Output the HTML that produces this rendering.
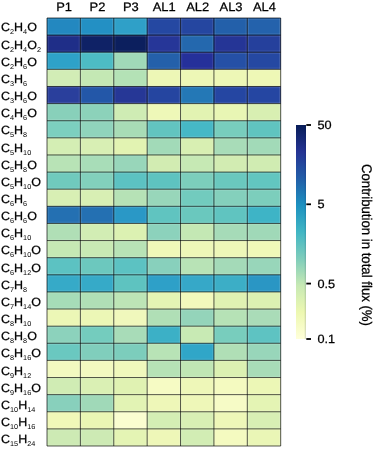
<!DOCTYPE html><html><head><meta charset="utf-8"><style>html,body{margin:0;padding:0;background:#fff;width:375px;height:457px;overflow:hidden}svg{display:block;will-change:transform}text{text-rendering:geometricPrecision;font-family:"Liberation Sans",sans-serif;fill:#000;stroke:#000;stroke-width:0.25px;font-variant-ligatures:none}</style></head><body>
<svg width="375" height="457" viewBox="0 0 375 457">
<defs><linearGradient id="cb" x1="0" y1="1" x2="0" y2="0">
<stop offset="0.0000" stop-color="#ffffd9"/>
<stop offset="0.1250" stop-color="#edf8b1"/>
<stop offset="0.2500" stop-color="#c7e9b4"/>
<stop offset="0.3750" stop-color="#7fcdbb"/>
<stop offset="0.5000" stop-color="#41b6c4"/>
<stop offset="0.6250" stop-color="#1d91c0"/>
<stop offset="0.7500" stop-color="#225ea8"/>
<stop offset="0.8750" stop-color="#253494"/>
<stop offset="1.0000" stop-color="#081d58"/>
</linearGradient></defs>
<rect x="47.00" y="18.00" width="33.44" height="17.17" fill="#2388c0"/>
<rect x="80.39" y="18.00" width="33.44" height="17.17" fill="#2390c4"/>
<rect x="113.77" y="18.00" width="33.44" height="17.17" fill="#2fa0c8"/>
<rect x="147.16" y="18.00" width="33.44" height="17.17" fill="#2548a2"/>
<rect x="180.54" y="18.00" width="33.44" height="17.17" fill="#2546a0"/>
<rect x="213.93" y="18.00" width="33.44" height="17.17" fill="#2360aa"/>
<rect x="247.31" y="18.00" width="33.44" height="17.17" fill="#2462ac"/>
<rect x="47.00" y="35.12" width="33.44" height="17.17" fill="#1f2e88"/>
<rect x="80.39" y="35.12" width="33.44" height="17.17" fill="#0f2266"/>
<rect x="113.77" y="35.12" width="33.44" height="17.17" fill="#0c1f5e"/>
<rect x="147.16" y="35.12" width="33.44" height="17.17" fill="#263698"/>
<rect x="180.54" y="35.12" width="33.44" height="17.17" fill="#2468ae"/>
<rect x="213.93" y="35.12" width="33.44" height="17.17" fill="#253596"/>
<rect x="247.31" y="35.12" width="33.44" height="17.17" fill="#25409c"/>
<rect x="47.00" y="52.24" width="33.44" height="17.17" fill="#2ea2c8"/>
<rect x="80.39" y="52.24" width="33.44" height="17.17" fill="#4dbcc4"/>
<rect x="113.77" y="52.24" width="33.44" height="17.17" fill="#a0d9b8"/>
<rect x="147.16" y="52.24" width="33.44" height="17.17" fill="#2460aa"/>
<rect x="180.54" y="52.24" width="33.44" height="17.17" fill="#25309a"/>
<rect x="213.93" y="52.24" width="33.44" height="17.17" fill="#2550a6"/>
<rect x="247.31" y="52.24" width="33.44" height="17.17" fill="#2548a2"/>
<rect x="47.00" y="69.36" width="33.44" height="17.17" fill="#d2edb6"/>
<rect x="80.39" y="69.36" width="33.44" height="17.17" fill="#c4e8b4"/>
<rect x="113.77" y="69.36" width="33.44" height="17.17" fill="#b4e2b6"/>
<rect x="147.16" y="69.36" width="33.44" height="17.17" fill="#edf7b6"/>
<rect x="180.54" y="69.36" width="33.44" height="17.17" fill="#edf7b6"/>
<rect x="213.93" y="69.36" width="33.44" height="17.17" fill="#edf7b6"/>
<rect x="247.31" y="69.36" width="33.44" height="17.17" fill="#eef8b6"/>
<rect x="47.00" y="86.48" width="33.44" height="17.17" fill="#2a3f9c"/>
<rect x="80.39" y="86.48" width="33.44" height="17.17" fill="#2357a8"/>
<rect x="113.77" y="86.48" width="33.44" height="17.17" fill="#263796"/>
<rect x="147.16" y="86.48" width="33.44" height="17.17" fill="#2545a0"/>
<rect x="180.54" y="86.48" width="33.44" height="17.17" fill="#2478b6"/>
<rect x="213.93" y="86.48" width="33.44" height="17.17" fill="#2546a2"/>
<rect x="247.31" y="86.48" width="33.44" height="17.17" fill="#2546a2"/>
<rect x="47.00" y="103.60" width="33.44" height="17.17" fill="#88d0ba"/>
<rect x="80.39" y="103.60" width="33.44" height="17.17" fill="#8cd2ba"/>
<rect x="113.77" y="103.60" width="33.44" height="17.17" fill="#cfecb4"/>
<rect x="147.16" y="103.60" width="33.44" height="17.17" fill="#eef8b8"/>
<rect x="180.54" y="103.60" width="33.44" height="17.17" fill="#e2f3b2"/>
<rect x="213.93" y="103.60" width="33.44" height="17.17" fill="#e8f6b4"/>
<rect x="247.31" y="103.60" width="33.44" height="17.17" fill="#d8efb2"/>
<rect x="47.00" y="120.72" width="33.44" height="17.17" fill="#7ccfbf"/>
<rect x="80.39" y="120.72" width="33.44" height="17.17" fill="#90d4bc"/>
<rect x="113.77" y="120.72" width="33.44" height="17.17" fill="#a8dcb6"/>
<rect x="147.16" y="120.72" width="33.44" height="17.17" fill="#62c4c0"/>
<rect x="180.54" y="120.72" width="33.44" height="17.17" fill="#46b8c6"/>
<rect x="213.93" y="120.72" width="33.44" height="17.17" fill="#78cdbd"/>
<rect x="247.31" y="120.72" width="33.44" height="17.17" fill="#60c4c0"/>
<rect x="47.00" y="137.84" width="33.44" height="17.17" fill="#d4eeb4"/>
<rect x="80.39" y="137.84" width="33.44" height="17.17" fill="#d8efb4"/>
<rect x="113.77" y="137.84" width="33.44" height="17.17" fill="#e2f3b2"/>
<rect x="147.16" y="137.84" width="33.44" height="17.17" fill="#a2dab8"/>
<rect x="180.54" y="137.84" width="33.44" height="17.17" fill="#d8efb2"/>
<rect x="213.93" y="137.84" width="33.44" height="17.17" fill="#a8dcb8"/>
<rect x="247.31" y="137.84" width="33.44" height="17.17" fill="#a2dab8"/>
<rect x="47.00" y="154.96" width="33.44" height="17.17" fill="#b8e3b6"/>
<rect x="80.39" y="154.96" width="33.44" height="17.17" fill="#a8ddb8"/>
<rect x="113.77" y="154.96" width="33.44" height="17.17" fill="#98d6ba"/>
<rect x="147.16" y="154.96" width="33.44" height="17.17" fill="#d2ecb2"/>
<rect x="180.54" y="154.96" width="33.44" height="17.17" fill="#c6e9b4"/>
<rect x="213.93" y="154.96" width="33.44" height="17.17" fill="#d2ecb2"/>
<rect x="247.31" y="154.96" width="33.44" height="17.17" fill="#d0ecb2"/>
<rect x="47.00" y="172.08" width="33.44" height="17.17" fill="#70cabd"/>
<rect x="80.39" y="172.08" width="33.44" height="17.17" fill="#82d0bc"/>
<rect x="113.77" y="172.08" width="33.44" height="17.17" fill="#5cc2c2"/>
<rect x="147.16" y="172.08" width="33.44" height="17.17" fill="#5ec3c0"/>
<rect x="180.54" y="172.08" width="33.44" height="17.17" fill="#7ccebc"/>
<rect x="213.93" y="172.08" width="33.44" height="17.17" fill="#6ac8be"/>
<rect x="247.31" y="172.08" width="33.44" height="17.17" fill="#62c6c0"/>
<rect x="47.00" y="189.20" width="33.44" height="17.17" fill="#d8efb4"/>
<rect x="80.39" y="189.20" width="33.44" height="17.17" fill="#d8efb4"/>
<rect x="113.77" y="189.20" width="33.44" height="17.17" fill="#b6e2b6"/>
<rect x="147.16" y="189.20" width="33.44" height="17.17" fill="#98d6ba"/>
<rect x="180.54" y="189.20" width="33.44" height="17.17" fill="#72cbbe"/>
<rect x="213.93" y="189.20" width="33.44" height="17.17" fill="#84d0bc"/>
<rect x="247.31" y="189.20" width="33.44" height="17.17" fill="#7ccebc"/>
<rect x="47.00" y="206.32" width="33.44" height="17.17" fill="#2470b2"/>
<rect x="80.39" y="206.32" width="33.44" height="17.17" fill="#2470b2"/>
<rect x="113.77" y="206.32" width="33.44" height="17.17" fill="#2a98c6"/>
<rect x="147.16" y="206.32" width="33.44" height="17.17" fill="#60c4c0"/>
<rect x="180.54" y="206.32" width="33.44" height="17.17" fill="#6ac8be"/>
<rect x="213.93" y="206.32" width="33.44" height="17.17" fill="#60c4c0"/>
<rect x="247.31" y="206.32" width="33.44" height="17.17" fill="#3eb4c6"/>
<rect x="47.00" y="223.44" width="33.44" height="17.17" fill="#b0dfb6"/>
<rect x="80.39" y="223.44" width="33.44" height="17.17" fill="#d2edb4"/>
<rect x="113.77" y="223.44" width="33.44" height="17.17" fill="#dcf1b2"/>
<rect x="147.16" y="223.44" width="33.44" height="17.17" fill="#8cd2bc"/>
<rect x="180.54" y="223.44" width="33.44" height="17.17" fill="#c4e8b4"/>
<rect x="213.93" y="223.44" width="33.44" height="17.17" fill="#a6dbb8"/>
<rect x="247.31" y="223.44" width="33.44" height="17.17" fill="#a0d9b8"/>
<rect x="47.00" y="240.56" width="33.44" height="17.17" fill="#c6e9b4"/>
<rect x="80.39" y="240.56" width="33.44" height="17.17" fill="#c8eab4"/>
<rect x="113.77" y="240.56" width="33.44" height="17.17" fill="#b8e3b6"/>
<rect x="147.16" y="240.56" width="33.44" height="17.17" fill="#f0f8b8"/>
<rect x="180.54" y="240.56" width="33.44" height="17.17" fill="#eef7b8"/>
<rect x="213.93" y="240.56" width="33.44" height="17.17" fill="#eef7b8"/>
<rect x="247.31" y="240.56" width="33.44" height="17.17" fill="#f0f8b8"/>
<rect x="47.00" y="257.68" width="33.44" height="17.17" fill="#5cc2c2"/>
<rect x="80.39" y="257.68" width="33.44" height="17.17" fill="#6cc8be"/>
<rect x="113.77" y="257.68" width="33.44" height="17.17" fill="#5cc2c2"/>
<rect x="147.16" y="257.68" width="33.44" height="17.17" fill="#88d0bc"/>
<rect x="180.54" y="257.68" width="33.44" height="17.17" fill="#b8e3b6"/>
<rect x="213.93" y="257.68" width="33.44" height="17.17" fill="#a4dab8"/>
<rect x="247.31" y="257.68" width="33.44" height="17.17" fill="#98d6ba"/>
<rect x="47.00" y="274.80" width="33.44" height="17.17" fill="#36aac8"/>
<rect x="80.39" y="274.80" width="33.44" height="17.17" fill="#36aac8"/>
<rect x="113.77" y="274.80" width="33.44" height="17.17" fill="#5ec3c0"/>
<rect x="147.16" y="274.80" width="33.44" height="17.17" fill="#2ea0c8"/>
<rect x="180.54" y="274.80" width="33.44" height="17.17" fill="#36a8c8"/>
<rect x="213.93" y="274.80" width="33.44" height="17.17" fill="#3caec6"/>
<rect x="247.31" y="274.80" width="33.44" height="17.17" fill="#2a96c4"/>
<rect x="47.00" y="291.92" width="33.44" height="17.17" fill="#a6dcb8"/>
<rect x="80.39" y="291.92" width="33.44" height="17.17" fill="#b0dfb6"/>
<rect x="113.77" y="291.92" width="33.44" height="17.17" fill="#bde5b6"/>
<rect x="147.16" y="291.92" width="33.44" height="17.17" fill="#e4f4b4"/>
<rect x="180.54" y="291.92" width="33.44" height="17.17" fill="#f2f9bc"/>
<rect x="213.93" y="291.92" width="33.44" height="17.17" fill="#e0f2b2"/>
<rect x="247.31" y="291.92" width="33.44" height="17.17" fill="#dcf1b2"/>
<rect x="47.00" y="309.04" width="33.44" height="17.17" fill="#ecf7b6"/>
<rect x="80.39" y="309.04" width="33.44" height="17.17" fill="#ecf7b6"/>
<rect x="113.77" y="309.04" width="33.44" height="17.17" fill="#f0f8bc"/>
<rect x="147.16" y="309.04" width="33.44" height="17.17" fill="#b0dfb6"/>
<rect x="180.54" y="309.04" width="33.44" height="17.17" fill="#94d4ba"/>
<rect x="213.93" y="309.04" width="33.44" height="17.17" fill="#b6e2b6"/>
<rect x="247.31" y="309.04" width="33.44" height="17.17" fill="#aadcb8"/>
<rect x="47.00" y="326.16" width="33.44" height="17.17" fill="#8cd2bc"/>
<rect x="80.39" y="326.16" width="33.44" height="17.17" fill="#74ccbe"/>
<rect x="113.77" y="326.16" width="33.44" height="17.17" fill="#a8dcb8"/>
<rect x="147.16" y="326.16" width="33.44" height="17.17" fill="#3cb0c6"/>
<rect x="180.54" y="326.16" width="33.44" height="17.17" fill="#c8eab4"/>
<rect x="213.93" y="326.16" width="33.44" height="17.17" fill="#78cdbd"/>
<rect x="247.31" y="326.16" width="33.44" height="17.17" fill="#5ec3c2"/>
<rect x="47.00" y="343.28" width="33.44" height="17.17" fill="#6ac8c0"/>
<rect x="80.39" y="343.28" width="33.44" height="17.17" fill="#80cebc"/>
<rect x="113.77" y="343.28" width="33.44" height="17.17" fill="#7ccdbc"/>
<rect x="147.16" y="343.28" width="33.44" height="17.17" fill="#b8e3b6"/>
<rect x="180.54" y="343.28" width="33.44" height="17.17" fill="#30a6c8"/>
<rect x="213.93" y="343.28" width="33.44" height="17.17" fill="#b0dfb6"/>
<rect x="247.31" y="343.28" width="33.44" height="17.17" fill="#98d6ba"/>
<rect x="47.00" y="360.40" width="33.44" height="17.17" fill="#f2f9c0"/>
<rect x="80.39" y="360.40" width="33.44" height="17.17" fill="#f2f9c0"/>
<rect x="113.77" y="360.40" width="33.44" height="17.17" fill="#f0f8bc"/>
<rect x="147.16" y="360.40" width="33.44" height="17.17" fill="#b6e2b6"/>
<rect x="180.54" y="360.40" width="33.44" height="17.17" fill="#c0e6b4"/>
<rect x="213.93" y="360.40" width="33.44" height="17.17" fill="#dcf1b2"/>
<rect x="247.31" y="360.40" width="33.44" height="17.17" fill="#a8dcb8"/>
<rect x="47.00" y="377.52" width="33.44" height="17.17" fill="#d0ecb4"/>
<rect x="80.39" y="377.52" width="33.44" height="17.17" fill="#daf0b4"/>
<rect x="113.77" y="377.52" width="33.44" height="17.17" fill="#e0f2b2"/>
<rect x="147.16" y="377.52" width="33.44" height="17.17" fill="#f6fbc4"/>
<rect x="180.54" y="377.52" width="33.44" height="17.17" fill="#eef7b8"/>
<rect x="213.93" y="377.52" width="33.44" height="17.17" fill="#f4fac0"/>
<rect x="247.31" y="377.52" width="33.44" height="17.17" fill="#ecf7b6"/>
<rect x="47.00" y="394.64" width="33.44" height="17.17" fill="#88d0bc"/>
<rect x="80.39" y="394.64" width="33.44" height="17.17" fill="#a0d9b8"/>
<rect x="113.77" y="394.64" width="33.44" height="17.17" fill="#e2f3b4"/>
<rect x="147.16" y="394.64" width="33.44" height="17.17" fill="#eef7b8"/>
<rect x="180.54" y="394.64" width="33.44" height="17.17" fill="#eef7b8"/>
<rect x="213.93" y="394.64" width="33.44" height="17.17" fill="#f6fbc6"/>
<rect x="247.31" y="394.64" width="33.44" height="17.17" fill="#e4f4b4"/>
<rect x="47.00" y="411.76" width="33.44" height="17.17" fill="#f0f8b8"/>
<rect x="80.39" y="411.76" width="33.44" height="17.17" fill="#eaf6b4"/>
<rect x="113.77" y="411.76" width="33.44" height="17.17" fill="#fafdd0"/>
<rect x="147.16" y="411.76" width="33.44" height="17.17" fill="#d4eeb4"/>
<rect x="180.54" y="411.76" width="33.44" height="17.17" fill="#d8efb4"/>
<rect x="213.93" y="411.76" width="33.44" height="17.17" fill="#eef7b8"/>
<rect x="247.31" y="411.76" width="33.44" height="17.17" fill="#d8efb4"/>
<rect x="47.00" y="428.88" width="33.44" height="17.17" fill="#cdeab4"/>
<rect x="80.39" y="428.88" width="33.44" height="17.17" fill="#cdeab4"/>
<rect x="113.77" y="428.88" width="33.44" height="17.17" fill="#e4f4b4"/>
<rect x="147.16" y="428.88" width="33.44" height="17.17" fill="#eef7b8"/>
<rect x="180.54" y="428.88" width="33.44" height="17.17" fill="#d2edb4"/>
<rect x="213.93" y="428.88" width="33.44" height="17.17" fill="#f4fac0"/>
<rect x="247.31" y="428.88" width="33.44" height="17.17" fill="#eaf6b6"/>
<path d="M48.20 18.00V446.00M79.19 18.00V446.00M81.59 18.00V446.00M112.57 18.00V446.00M114.97 18.00V446.00M145.96 18.00V446.00M148.36 18.00V446.00M179.34 18.00V446.00M181.74 18.00V446.00M212.73 18.00V446.00M215.13 18.00V446.00M246.11 18.00V446.00M248.51 18.00V446.00M279.50 18.00V446.00M47.00 19.20H280.70M47.00 33.92H280.70M47.00 36.32H280.70M47.00 51.04H280.70M47.00 53.44H280.70M47.00 68.16H280.70M47.00 70.56H280.70M47.00 85.28H280.70M47.00 87.68H280.70M47.00 102.40H280.70M47.00 104.80H280.70M47.00 119.52H280.70M47.00 121.92H280.70M47.00 136.64H280.70M47.00 139.04H280.70M47.00 153.76H280.70M47.00 156.16H280.70M47.00 170.88H280.70M47.00 173.28H280.70M47.00 188.00H280.70M47.00 190.40H280.70M47.00 205.12H280.70M47.00 207.52H280.70M47.00 222.24H280.70M47.00 224.64H280.70M47.00 239.36H280.70M47.00 241.76H280.70M47.00 256.48H280.70M47.00 258.88H280.70M47.00 273.60H280.70M47.00 276.00H280.70M47.00 290.72H280.70M47.00 293.12H280.70M47.00 307.84H280.70M47.00 310.24H280.70M47.00 324.96H280.70M47.00 327.36H280.70M47.00 342.08H280.70M47.00 344.48H280.70M47.00 359.20H280.70M47.00 361.60H280.70M47.00 376.32H280.70M47.00 378.72H280.70M47.00 393.44H280.70M47.00 395.84H280.70M47.00 410.56H280.70M47.00 412.96H280.70M47.00 427.68H280.70M47.00 430.08H280.70M47.00 444.80H280.70" stroke="rgba(255,255,255,0.12)" stroke-width="0.9" fill="none"/>
<path d="M47.00 18.00V446.00M80.39 18.00V446.00M113.77 18.00V446.00M147.16 18.00V446.00M180.54 18.00V446.00M213.93 18.00V446.00M247.31 18.00V446.00M280.70 18.00V446.00M47.00 18.00H280.70M47.00 35.12H280.70M47.00 52.24H280.70M47.00 69.36H280.70M47.00 86.48H280.70M47.00 103.60H280.70M47.00 120.72H280.70M47.00 137.84H280.70M47.00 154.96H280.70M47.00 172.08H280.70M47.00 189.20H280.70M47.00 206.32H280.70M47.00 223.44H280.70M47.00 240.56H280.70M47.00 257.68H280.70M47.00 274.80H280.70M47.00 291.92H280.70M47.00 309.04H280.70M47.00 326.16H280.70M47.00 343.28H280.70M47.00 360.40H280.70M47.00 377.52H280.70M47.00 394.64H280.70M47.00 411.76H280.70M47.00 428.88H280.70M47.00 446.00H280.70" stroke="rgba(0,0,0,0.66)" stroke-width="1.0" fill="none"/>
<text transform="translate(64.09,11.3) scale(1.06,1)" font-size="12.2" text-anchor="middle">P1</text>
<text transform="translate(97.48,11.3) scale(1.06,1)" font-size="12.2" text-anchor="middle">P2</text>
<text transform="translate(130.86,11.3) scale(1.06,1)" font-size="12.2" text-anchor="middle">P3</text>
<text transform="translate(164.25,11.3) scale(1.06,1)" font-size="12.2" text-anchor="middle">AL1</text>
<text transform="translate(197.64,11.3) scale(1.06,1)" font-size="12.2" text-anchor="middle">AL2</text>
<text transform="translate(231.02,11.3) scale(1.06,1)" font-size="12.2" text-anchor="middle">AL3</text>
<text transform="translate(264.41,11.3) scale(1.06,1)" font-size="12.2" text-anchor="middle">AL4</text>
<text transform="translate(1.0,31.40) scale(1.04,1)" letter-spacing="0"><tspan font-size="12" dy="0">C</tspan><tspan font-size="7" dy="3" stroke-width="0">2</tspan><tspan font-size="12" dy="-3">H</tspan><tspan font-size="7" dy="3" stroke-width="0">4</tspan><tspan font-size="12" dy="-3">O</tspan></text>
<text transform="translate(1.0,48.56) scale(1.04,1)" letter-spacing="0"><tspan font-size="12" dy="0">C</tspan><tspan font-size="7" dy="3" stroke-width="0">2</tspan><tspan font-size="12" dy="-3">H</tspan><tspan font-size="7" dy="3" stroke-width="0">4</tspan><tspan font-size="12" dy="-3">O</tspan><tspan font-size="7" dy="3" stroke-width="0">2</tspan></text>
<text transform="translate(1.0,65.72) scale(1.04,1)" letter-spacing="0"><tspan font-size="12" dy="0">C</tspan><tspan font-size="7" dy="3" stroke-width="0">2</tspan><tspan font-size="12" dy="-3">H</tspan><tspan font-size="7" dy="3" stroke-width="0">6</tspan><tspan font-size="12" dy="-3">O</tspan></text>
<text transform="translate(1.0,82.88) scale(1.04,1)" letter-spacing="0"><tspan font-size="12" dy="0">C</tspan><tspan font-size="7" dy="3" stroke-width="0">3</tspan><tspan font-size="12" dy="-3">H</tspan><tspan font-size="7" dy="3" stroke-width="0">6</tspan></text>
<text transform="translate(1.0,100.04) scale(1.04,1)" letter-spacing="0"><tspan font-size="12" dy="0">C</tspan><tspan font-size="7" dy="3" stroke-width="0">3</tspan><tspan font-size="12" dy="-3">H</tspan><tspan font-size="7" dy="3" stroke-width="0">6</tspan><tspan font-size="12" dy="-3">O</tspan></text>
<text transform="translate(1.0,117.20) scale(1.04,1)" letter-spacing="0"><tspan font-size="12" dy="0">C</tspan><tspan font-size="7" dy="3" stroke-width="0">4</tspan><tspan font-size="12" dy="-3">H</tspan><tspan font-size="7" dy="3" stroke-width="0">6</tspan><tspan font-size="12" dy="-3">O</tspan></text>
<text transform="translate(1.0,134.36) scale(1.04,1)" letter-spacing="0"><tspan font-size="12" dy="0">C</tspan><tspan font-size="7" dy="3" stroke-width="0">5</tspan><tspan font-size="12" dy="-3">H</tspan><tspan font-size="7" dy="3" stroke-width="0">8</tspan></text>
<text transform="translate(1.0,151.52) scale(1.04,1)" letter-spacing="0"><tspan font-size="12" dy="0">C</tspan><tspan font-size="7" dy="3" stroke-width="0">5</tspan><tspan font-size="12" dy="-3">H</tspan><tspan font-size="7" dy="3" stroke-width="0">10</tspan></text>
<text transform="translate(1.0,168.68) scale(1.04,1)" letter-spacing="0"><tspan font-size="12" dy="0">C</tspan><tspan font-size="7" dy="3" stroke-width="0">5</tspan><tspan font-size="12" dy="-3">H</tspan><tspan font-size="7" dy="3" stroke-width="0">8</tspan><tspan font-size="12" dy="-3">O</tspan></text>
<text transform="translate(1.0,185.84) scale(1.04,1)" letter-spacing="0"><tspan font-size="12" dy="0">C</tspan><tspan font-size="7" dy="3" stroke-width="0">5</tspan><tspan font-size="12" dy="-3">H</tspan><tspan font-size="7" dy="3" stroke-width="0">10</tspan><tspan font-size="12" dy="-3">O</tspan></text>
<text transform="translate(1.0,203.00) scale(1.04,1)" letter-spacing="0"><tspan font-size="12" dy="0">C</tspan><tspan font-size="7" dy="3" stroke-width="0">6</tspan><tspan font-size="12" dy="-3">H</tspan><tspan font-size="7" dy="3" stroke-width="0">6</tspan></text>
<text transform="translate(1.0,220.16) scale(1.04,1)" letter-spacing="0"><tspan font-size="12" dy="0">C</tspan><tspan font-size="7" dy="3" stroke-width="0">6</tspan><tspan font-size="12" dy="-3">H</tspan><tspan font-size="7" dy="3" stroke-width="0">6</tspan><tspan font-size="12" dy="-3">O</tspan></text>
<text transform="translate(1.0,237.32) scale(1.04,1)" letter-spacing="0"><tspan font-size="12" dy="0">C</tspan><tspan font-size="7" dy="3" stroke-width="0">6</tspan><tspan font-size="12" dy="-3">H</tspan><tspan font-size="7" dy="3" stroke-width="0">10</tspan></text>
<text transform="translate(1.0,254.48) scale(1.04,1)" letter-spacing="0"><tspan font-size="12" dy="0">C</tspan><tspan font-size="7" dy="3" stroke-width="0">6</tspan><tspan font-size="12" dy="-3">H</tspan><tspan font-size="7" dy="3" stroke-width="0">10</tspan><tspan font-size="12" dy="-3">O</tspan></text>
<text transform="translate(1.0,271.64) scale(1.04,1)" letter-spacing="0"><tspan font-size="12" dy="0">C</tspan><tspan font-size="7" dy="3" stroke-width="0">6</tspan><tspan font-size="12" dy="-3">H</tspan><tspan font-size="7" dy="3" stroke-width="0">12</tspan><tspan font-size="12" dy="-3">O</tspan></text>
<text transform="translate(1.0,288.80) scale(1.04,1)" letter-spacing="0"><tspan font-size="12" dy="0">C</tspan><tspan font-size="7" dy="3" stroke-width="0">7</tspan><tspan font-size="12" dy="-3">H</tspan><tspan font-size="7" dy="3" stroke-width="0">8</tspan></text>
<text transform="translate(1.0,305.96) scale(1.04,1)" letter-spacing="0"><tspan font-size="12" dy="0">C</tspan><tspan font-size="7" dy="3" stroke-width="0">7</tspan><tspan font-size="12" dy="-3">H</tspan><tspan font-size="7" dy="3" stroke-width="0">14</tspan><tspan font-size="12" dy="-3">O</tspan></text>
<text transform="translate(1.0,323.12) scale(1.04,1)" letter-spacing="0"><tspan font-size="12" dy="0">C</tspan><tspan font-size="7" dy="3" stroke-width="0">8</tspan><tspan font-size="12" dy="-3">H</tspan><tspan font-size="7" dy="3" stroke-width="0">10</tspan></text>
<text transform="translate(1.0,340.28) scale(1.04,1)" letter-spacing="0"><tspan font-size="12" dy="0">C</tspan><tspan font-size="7" dy="3" stroke-width="0">8</tspan><tspan font-size="12" dy="-3">H</tspan><tspan font-size="7" dy="3" stroke-width="0">8</tspan><tspan font-size="12" dy="-3">O</tspan></text>
<text transform="translate(1.0,357.44) scale(1.04,1)" letter-spacing="0"><tspan font-size="12" dy="0">C</tspan><tspan font-size="7" dy="3" stroke-width="0">8</tspan><tspan font-size="12" dy="-3">H</tspan><tspan font-size="7" dy="3" stroke-width="0">16</tspan><tspan font-size="12" dy="-3">O</tspan></text>
<text transform="translate(1.0,374.60) scale(1.04,1)" letter-spacing="0"><tspan font-size="12" dy="0">C</tspan><tspan font-size="7" dy="3" stroke-width="0">9</tspan><tspan font-size="12" dy="-3">H</tspan><tspan font-size="7" dy="3" stroke-width="0">12</tspan></text>
<text transform="translate(1.0,391.76) scale(1.04,1)" letter-spacing="0"><tspan font-size="12" dy="0">C</tspan><tspan font-size="7" dy="3" stroke-width="0">9</tspan><tspan font-size="12" dy="-3">H</tspan><tspan font-size="7" dy="3" stroke-width="0">16</tspan><tspan font-size="12" dy="-3">O</tspan></text>
<text transform="translate(1.0,408.92) scale(1.04,1)" letter-spacing="0"><tspan font-size="12" dy="0">C</tspan><tspan font-size="7" dy="3" stroke-width="0">10</tspan><tspan font-size="12" dy="-3">H</tspan><tspan font-size="7" dy="3" stroke-width="0">14</tspan></text>
<text transform="translate(1.0,426.08) scale(1.04,1)" letter-spacing="0"><tspan font-size="12" dy="0">C</tspan><tspan font-size="7" dy="3" stroke-width="0">10</tspan><tspan font-size="12" dy="-3">H</tspan><tspan font-size="7" dy="3" stroke-width="0">16</tspan></text>
<text transform="translate(1.0,443.24) scale(1.04,1)" letter-spacing="0"><tspan font-size="12" dy="0">C</tspan><tspan font-size="7" dy="3" stroke-width="0">15</tspan><tspan font-size="12" dy="-3">H</tspan><tspan font-size="7" dy="3" stroke-width="0">24</tspan></text>
<rect x="296" y="125" width="10" height="214" fill="url(#cb)"/>
<rect x="304.7" y="125" width="1.3" height="214" fill="rgba(0,20,60,0.12)"/>
<path d="M306.3 125.00H311" stroke="#000" stroke-width="1.8"/>
<text transform="translate(317.5,129.20) scale(1.06,1)" font-size="12">50</text>
<path d="M306.3 204.29H311" stroke="#000" stroke-width="1.8"/>
<text transform="translate(317.5,208.49) scale(1.06,1)" font-size="12">5</text>
<path d="M306.3 283.58H311" stroke="#000" stroke-width="1.8"/>
<text transform="translate(317.5,287.78) scale(1.06,1)" font-size="12">0.5</text>
<path d="M306.3 339.00H311" stroke="#000" stroke-width="1.8"/>
<text transform="translate(317.5,343.20) scale(1.06,1)" font-size="12">0.1</text>
<text transform="translate(362.3,245.0) rotate(90) scale(1,1.06)" font-size="13.2" stroke-width="0.1" text-anchor="middle">Contribution in total flux (%)</text>
</svg></body></html>
